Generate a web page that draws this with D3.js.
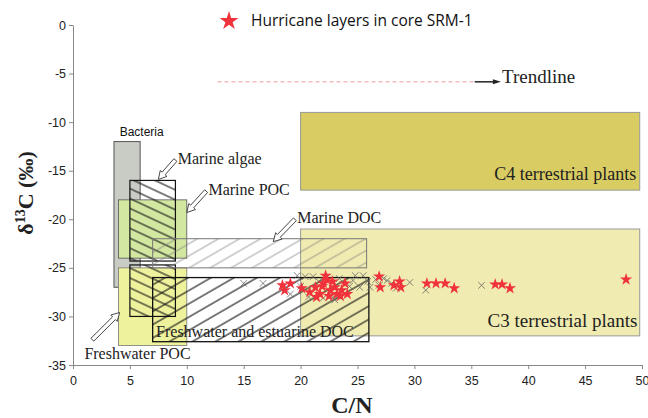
<!DOCTYPE html>
<html>
<head>
<meta charset="utf-8">
<script src="https://cdn.jsdelivr.net/npm/d3@7/dist/d3.min.js"></script>
<style>
  body { margin: 0; background: #fff; }
  svg { display: block; }
</style>
</head>
<body>
<div id="chart"></div>
<script>
var W = 648, H = 418;

// source fields: [name, cnMin, cnMax, d13cMin, d13cMax]
var fields = [
  ['C3 terrestrial plants', 20, 49.8, -32, -21],
  ['C4 terrestrial plants', 20, 49.8, -17, -9],
  ['Bacteria', 3.6, 5.9, -27, -12],
  ['Marine POC', 4, 10, -24, -18],
  ['Freshwater POC', 4, 10, -33, -25],
  ['Marine algae', 5, 9, -24.3, -16],
  ['Marine algae', 5, 9, -30, -24.7],
  ['Marine DOC', 7, 25.8, -25, -22],
  ['Freshwater and estuarine DOC', 7, 26, -32.6, -26]
];

// hurricane layers (stars)
var starCN = [18.4, 18.6, 19.1, 20.1, 20.8, 21.3, 21.4, 21.7, 22.2, 22.3, 22.6, 23.0,
  22.0, 22.8, 23.2, 23.5, 23.9, 24.1, 23.6, 21.9, 22.5, 26.9, 27.0, 28.2, 28.7, 28.8,
  31.1, 31.9, 32.7, 33.5, 37.1, 37.7, 38.4, 48.6];
var starD13C = [-26.8, -27.3, -26.6, -27.1, -27.5, -27.0, -28.0, -27.7, -25.8, -26.2, -27.3, -27.0,
  -26.6, -26.4, -27.7, -27.9, -26.6, -27.7, -27.3, -26.9, -27.9, -25.9, -27.0, -26.8, -26.4, -27.0,
  -26.6, -26.6, -26.6, -27.1, -26.7, -26.7, -27.1, -26.2];

// other samples (crosses)
var crossCN = [15.0, 16.7, 19.1, 19.7, 20.4, 21.1, 20.7, 22.0, 22.9, 21.6, 23.4, 24.3,
  24.8, 25.5, 25.2, 26.1, 26.6, 27.6, 28.0, 29.6, 31.0, 35.9, 24.6, 25.9, 26.9, 27.3,
  23.0, 20.0, 28.4];
var crossD13C = [-26.6, -26.6, -27.7, -25.8, -25.9, -25.9, -28.0, -28.1, -28.0, -26.4, -26.1, -26.9,
  -25.8, -25.8, -27.0, -27.0, -26.2, -26.3, -26.6, -26.5, -27.3, -26.8, -26.3, -26.4, -26.8, -26.1,
  -28.3, -26.9, -27.1];

var xTicks = [0, 5, 10, 15, 20, 25, 30, 35, 40, 45, 50];
var yTicks = [0, -5, -10, -15, -20, -25, -30, -35];

// label callouts: [text, textX, textY, arrowTailX, arrowTailY, arrowHeadX, arrowHeadY]
var callouts = [
  ['Marine algae', 9.2, -14.3, 9.0, -13.9, 7.5, -15.9],
  ['Marine POC', 11.9, -17.5, 11.7, -17.1, 10.0, -19.3],
  ['Marine DOC', 19.7, -20.4, 19.5, -20.0, 17.6, -22.3],
  ['Freshwater POC', 1.0, -34.4, 1.7, -32.4, 4.1, -29.6]
];

var svg = d3.select('#chart').append('svg')
  .attr('width', W)
  .attr('height', H)
  .style('font-family', 'Liberation Sans, Arial, sans-serif');

var x = d3.scaleLinear().domain([0, 50]).range([73, 642]);
var y = d3.scaleLinear().domain([-35, 0]).range([365, 25]);

var defs = svg.append('defs');
function hatch(id, spacing, angle, color, width) {
  var p = defs.append('pattern')
    .attr('id', id)
    .attr('patternUnits', 'userSpaceOnUse')
    .attr('width', spacing)
    .attr('height', 10)
    .attr('patternTransform', 'rotate(' + angle + ')');
  p.append('line')
    .attr('x1', 1).attr('y1', 0).attr('x2', 1).attr('y2', 10)
    .attr('stroke', color)
    .attr('stroke-width', width);
}
hatch('h-algae', 9, -65, '#111', 1.1);
hatch('h-mdoc', 10.5, 60, '#777', 0.7);
hatch('h-fdoc', 11.5, 60, '#111', 1.1);

var styles = {
  'C3 terrestrial plants': { fill: '#f0ebb0', stroke: '#999', sw: 1 },
  'C4 terrestrial plants': { fill: '#d9cc62', stroke: '#999', sw: 1 },
  'Bacteria': { fill: '#c9ccc5', stroke: '#555', sw: 1 },
  'Marine POC': { fill: '#d2e8a0', stroke: '#555', sw: 0.8 },
  'Freshwater POC': { fill: '#eef29c', stroke: '#777', sw: 0.8 },
  'Marine algae': { fill: 'url(#h-algae)', stroke: '#111', sw: 1.2 },
  'Marine DOC': { fill: 'url(#h-mdoc)', stroke: '#777', sw: 1 },
  'Freshwater and estuarine DOC': { fill: 'url(#h-fdoc)', stroke: '#111', sw: 1.3 }
};

svg.append('g').selectAll('rect')
  .data(fields)
  .join('rect')
  .attr('x', function(d) { return x(d[1]); })
  .attr('y', function(d) { return y(d[4]); })
  .attr('width', function(d) { return x(d[2]) - x(d[1]); })
  .attr('height', function(d) { return y(d[3]) - y(d[4]); })
  .attr('fill', function(d) { return styles[d[0]].fill; })
  .attr('stroke', function(d) { return styles[d[0]].stroke; })
  .attr('stroke-width', function(d) { return styles[d[0]].sw; });

// axes
var xAxis = svg.append('g')
  .attr('transform', 'translate(0,' + y(-35) + ')')
  .call(d3.axisBottom(x).tickValues(xTicks).tickSize(4).tickSizeOuter(0).tickFormat(function(d) { return String(d); }));
var yAxis = svg.append('g')
  .attr('transform', 'translate(' + x(0) + ',0)')
  .call(d3.axisLeft(y).tickValues(yTicks).tickSize(4).tickSizeOuter(0).tickFormat(function(d) { return String(d); }));
[xAxis, yAxis].forEach(function(a) {
  a.select('.domain').attr('stroke', '#888');
  a.selectAll('.tick line').attr('stroke', '#888');
  a.selectAll('.tick text')
    .attr('fill', '#222')
    .style('font-size', '12.5px')
    .style('font-family', 'Liberation Sans, Arial, sans-serif');
});
xAxis.selectAll('.tick text').attr('dy', '1.05em');

// field labels
var serif = 'Liberation Serif, Times New Roman, serif';
svg.append('text')
  .attr('x', x(4.1)).attr('y', y(-11.4))
  .style('font-size', '12px')
  .attr('fill', '#111')
  .text('Bacteria');
svg.append('text')
  .attr('x', x(49.5)).attr('y', y(-16.0))
  .attr('text-anchor', 'end')
  .style('font-family', serif).style('font-size', '18px')
  .attr('fill', '#222')
  .text('C4 terrestrial plants');
svg.append('text')
  .attr('x', x(49.6)).attr('y', y(-31.1))
  .attr('text-anchor', 'end')
  .style('font-family', serif).style('font-size', '19px')
  .attr('fill', '#222')
  .text('C3 terrestrial plants');
svg.append('text')
  .attr('x', x(7.3)).attr('y', y(-32.1))
  .style('font-family', serif).style('font-size', '16px')
  .attr('fill', '#222')
  .text('Freshwater and estuarine DOC');

// hollow arrows
function arrowPath(x1, y1, x2, y2) {
  var dx = x2 - x1, dy = y2 - y1;
  var len = Math.sqrt(dx * dx + dy * dy);
  var ux = dx / len, uy = dy / len, nx = -uy, ny = ux;
  var sw = 2, hw = 4.5, hl = 8;
  var pts = [
    [0, -sw], [len - hl, -sw], [len - hl, -hw], [len, 0],
    [len - hl, hw], [len - hl, sw], [0, sw]
  ];
  return 'M' + pts.map(function(p) {
    return (x1 + ux * p[0] + nx * p[1]) + ',' + (y1 + uy * p[0] + ny * p[1]);
  }).join('L') + 'Z';
}
var co = svg.append('g');
co.selectAll('path')
  .data(callouts)
  .join('path')
  .attr('d', function(d) { return arrowPath(x(d[3]), y(d[4]), x(d[5]), y(d[6])); })
  .attr('fill', '#fff')
  .attr('stroke', '#333')
  .attr('stroke-width', 0.9);
co.selectAll('text')
  .data(callouts)
  .join('text')
  .attr('x', function(d) { return x(d[1]); })
  .attr('y', function(d) { return y(d[2]); })
  .style('font-family', serif).style('font-size', '16px')
  .attr('fill', '#222')
  .text(function(d) { return d[0]; });

// trendline
svg.append('line')
  .attr('x1', x(12.7)).attr('x2', x(35.3))
  .attr('y1', y(-5.85)).attr('y2', y(-5.85))
  .attr('stroke', '#f29a9a')
  .attr('stroke-width', 1)
  .attr('stroke-dasharray', '4,3');
svg.append('line')
  .attr('x1', x(35.3)).attr('x2', x(37.0))
  .attr('y1', y(-5.85)).attr('y2', y(-5.85))
  .attr('stroke', '#222')
  .attr('stroke-width', 1.5);
svg.append('path')
  .attr('d', 'M' + x(37.6) + ',' + y(-5.85) + 'l-8,-2.5l0,5z')
  .attr('fill', '#222');
svg.append('text')
  .attr('x', x(37.7)).attr('y', y(-6.0))
  .style('font-family', serif).style('font-size', '19px')
  .attr('fill', '#222')
  .text('Trendline');

// data points
var cross = d3.symbol(d3.symbolX, 30);
svg.append('g').selectAll('path')
  .data(d3.range(crossCN.length))
  .join('path')
  .attr('transform', function(i) { return 'translate(' + x(crossCN[i]) + ',' + y(crossD13C[i]) + ')'; })
  .attr('d', cross)
  .attr('fill', 'none')
  .attr('stroke', '#666')
  .attr('stroke-width', 0.8);
var star = d3.symbol(d3.symbolStar, 46);
svg.append('g').selectAll('path')
  .data(d3.range(starCN.length))
  .join('path')
  .attr('transform', function(i) { return 'translate(' + x(starCN[i]) + ',' + y(starD13C[i]) + ')'; })
  .attr('d', star)
  .attr('fill', '#f0323c');

// legend
svg.append('path')
  .attr('transform', 'translate(229,21)')
  .attr('d', d3.symbol(d3.symbolStar, 110))
  .attr('fill', '#f0323c');
svg.append('text')
  .attr('x', 251).attr('y', 26)
  .style('font-family', 'Open Sans, Noto Sans, sans-serif')
  .style('font-size', '15.5px')
  .attr('fill', '#111')
  .text('Hurricane layers in core SRM-1');

// axis titles
svg.append('text')
  .attr('x', x(24.5)).attr('y', 413)
  .attr('text-anchor', 'middle')
  .style('font-family', serif).style('font-size', '24px').style('font-weight', 'bold')
  .attr('fill', '#222')
  .text('C/N');
var yl = svg.append('text')
  .attr('transform', 'translate(33,193) rotate(-90)')
  .attr('text-anchor', 'middle')
  .style('font-family', serif).style('font-size', '22px').style('font-weight', 'bold')
  .attr('fill', '#222');
yl.append('tspan').text('δ');
yl.append('tspan').attr('dy', -8).style('font-size', '14px').text('13');
yl.append('tspan').attr('dy', 8).text('C (‰)');
</script>
</body>
</html>
